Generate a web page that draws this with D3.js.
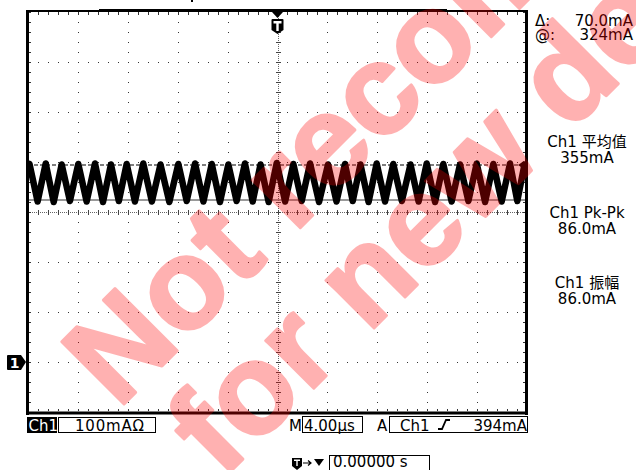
<!DOCTYPE html>
<html>
<head>
<meta charset="utf-8">
<script src="https://cdn.jsdelivr.net/npm/d3@7"></script>
<style>
  html, body { margin: 0; padding: 0; background: #fff; }
  svg { display: block; }
</style>
</head>
<body>
<svg id="scope" width="636" height="470"></svg>
<script>
// ---- Captured channel 1 waveform: vertex times (µs) and currents (mA) ----
const waveTimes = [
  -20.00, -19.88, -19.23, -18.58, -17.94, -17.30, -16.64, -15.97, -15.30, -14.63,
  -13.99, -13.35, -12.72, -12.09, -11.43, -10.76, -10.07, -9.38, -8.67, -7.95,
  -7.28, -6.61, -5.94, -5.27, -4.61, -3.94, -3.28, -2.61, -1.99, -1.36,
  -0.71, -0.06, 0.61, 1.27, 1.94, 2.61, 3.33, 4.05, 4.73, 5.41,
  6.03, 6.65, 7.30, 7.95, 8.62, 9.28, 9.97, 10.66, 11.31, 11.96,
  12.63, 13.29, 13.96, 14.63, 15.30, 15.97, 16.64, 17.30, 17.97, 18.64,
  19.22, 19.80, 20.00
];
const waveCurrents = [
  390, 396, 321, 397, 320, 395, 322, 396, 321, 397,
  320, 395, 322, 396, 321, 397, 321, 395, 320, 396,
  322, 397, 321, 396, 320, 395, 322, 397, 321, 395,
  320, 398, 321, 396, 322, 397, 320, 395, 321, 396,
  322, 395, 320, 397, 321, 396, 322, 395, 321, 397,
  320, 396, 321, 395, 322, 397, 320, 396, 321, 397,
  322, 395, 384
];

// ---- Cursors, trigger and measurement readouts ----
const cursorLower = 324;      // mA, "@" reading
const cursorDelta = 70;       // mA, "Δ" reading
const cursorUpper = cursorLower + cursorDelta;
const triggerLevel = 394;     // mA
const cursorLabels = ["Δ:", "@:"];
const cursorValues = ["70.0mA", "324mA"];
const measureNames = ["Ch1 平均值", "Ch1 Pk-Pk", "Ch1 振幅"];
const measureValues = ["355mA", "86.0mA", "86.0mA"];

// ---- Status bar texts ----
const chLabel = "Ch1";
const voltsDiv = "100mAΩ";
const timeDiv = "4.00µs";
const trigSource = "Ch1";
const trigValue = "394mA";
const horizPos = "0.00000 s";

// ---- Graticule divisions ----
const timeTicks = d3.range(-20, 20.001, 4);     // µs, 10 divisions
const currentTicks = d3.range(-100, 700.1, 100); // mA, 8 divisions

const svg = d3.select("#scope");
const FONT = "'DejaVu Sans', Verdana, sans-serif";
const CJK = "'DejaVu Sans', 'Noto Sans CJK SC', sans-serif";

const x = d3.scaleLinear().domain([-20, 20]).range([28, 527]);
const y = d3.scaleLinear().domain([-100, 700]).range([412, 12]);

const grid = svg.append("g").attr("class", "graticule");
const dot = (gx, gy, w = 1, h = 1, c = "#333") =>
  grid.append("rect").attr("x", gx).attr("y", gy).attr("width", w).attr("height", h).attr("fill", c);

// dotted horizontal division lines
const minorT = d3.range(-20, 20.001, 0.8);
const minorI = d3.range(-100, 700.1, 20);
currentTicks.forEach(v => {
  if (v === 300) return;
  minorT.forEach(t => dot(Math.round(x(t)), Math.round(y(v))));
});
// dotted vertical division lines
timeTicks.forEach(t => {
  if (t === 0) return;
  minorI.forEach(v => dot(Math.round(x(t)), Math.round(y(v))));
});

// center cross with dense dots and minor tick marks
const cx = Math.round(x(0)), cy = Math.round(y(300));
for (let px = x(-20); px <= x(20); px += 2) dot(Math.round(px), cy, 1, 1, "#666");
for (let py = y(700); py <= y(-100); py += 2) dot(cx, Math.round(py), 1, 1, "#666");
minorT.forEach(t => dot(Math.round(x(t)), cy - 2, 1, 5, "#444"));
minorI.forEach(v => dot(cx - 2, Math.round(y(v)), 5, 1, "#444"));

// border ticks
minorT.forEach(t => {
  dot(Math.round(x(t)), 13, 1, 2);
  dot(Math.round(x(t)), 409, 1, 2);
});
minorI.forEach(v => {
  dot(29, Math.round(y(v)), 2, 1);
  dot(523, Math.round(y(v)), 2, 1);
});

// cursor lines
svg.append("line")
  .attr("x1", x(-20)).attr("x2", x(20))
  .attr("y1", y(cursorUpper)).attr("y2", y(cursorUpper))
  .attr("stroke", "#555").attr("stroke-width", 1.5).attr("stroke-dasharray", "4,2");
svg.append("line")
  .attr("x1", x(-20)).attr("x2", x(20))
  .attr("y1", y(cursorLower)).attr("y2", y(cursorLower))
  .attr("stroke", "#777").attr("stroke-width", 1.6);

// waveform
svg.append("clipPath").attr("id", "plotClip")
  .append("rect").attr("x", 28).attr("y", 12).attr("width", 499).attr("height", 400);
const wave = waveTimes.map((t, i) => [t, waveCurrents[i]]);
svg.append("path")
  .datum(wave)
  .attr("clip-path", "url(#plotClip)")
  .attr("fill", "none")
  .attr("stroke", "#000")
  .attr("stroke-width", 6.5)
  .attr("stroke-linejoin", "round")
  .attr("d", d3.line().x(d => x(d[0])).y(d => y(d[1])));

// frame
svg.append("line").attr("x1", 27.5).attr("x2", 27.5).attr("y1", 10).attr("y2", 415)
  .attr("stroke", "#000").attr("stroke-width", 3);
svg.append("line").attr("x1", 526.5).attr("x2", 526.5).attr("y1", 10).attr("y2", 415)
  .attr("stroke", "#000").attr("stroke-width", 3);
svg.append("line").attr("x1", 26).attr("x2", 528).attr("y1", 413).attr("y2", 413)
  .attr("stroke", "#000").attr("stroke-width", 3);
svg.append("line").attr("x1", 26).attr("x2", 528).attr("y1", 11).attr("y2", 11)
  .attr("stroke", "#000").attr("stroke-width", 2);
svg.append("rect").attr("x", 99).attr("y", 9).attr("width", 348).attr("height", 3).attr("fill", "#000");
svg.append("rect").attr("x", 191).attr("y", 0).attr("width", 2).attr("height", 2).attr("fill", "#000");

// trigger position marker
const tx = x(0);
svg.append("path").attr("d", `M${tx - 5.5},12 L${tx + 5.5},12 L${tx},18 Z`).attr("fill", "#000");
svg.append("path")
  .attr("d", `M${tx - 6},20 Q${tx - 6},19 ${tx - 5},19 L${tx + 5},19 Q${tx + 6},19 ${tx + 6},20 L${tx + 6},30 L${tx},34 L${tx - 6},30 Z`)
  .attr("fill", "#000");
svg.append("rect").attr("x", tx - 4).attr("y", 21).attr("width", 8).attr("height", 2.5).attr("fill", "#fff");
svg.append("rect").attr("x", tx - 1.2).attr("y", 22).attr("width", 2.4).attr("height", 9).attr("fill", "#fff");

// trigger level marker
const ty = y(triggerLevel);
svg.append("path").attr("d", `M518,${ty} L524,${ty - 4} L524,${ty + 4} Z`).attr("fill", "#000");

// channel 1 ground marker
const gy = y(0);
svg.append("path")
  .attr("d", `M8,${gy - 7} Q7,${gy - 7} 7,${gy - 6} L7,${gy + 7} Q7,${gy + 8} 8,${gy + 8} L21,${gy + 8} L26,${gy} L21,${gy - 7} Z`)
  .attr("fill", "#000");
svg.append("text").attr("x", 14.5).attr("y", gy + 6).attr("text-anchor", "middle")
  .attr("font-family", FONT).attr("font-weight", "bold").attr("font-size", 14)
  .attr("fill", "#fff").text("1");

// cursor readouts
const txt = (tx0, ty0, s, anchor = "start", size = 15, fam = FONT, fill = "#000") =>
  svg.append("text").attr("x", tx0).attr("y", ty0).attr("text-anchor", anchor)
    .attr("font-family", fam).attr("font-size", size).attr("fill", fill).text(s);
cursorLabels.forEach((l, i) => {
  txt(535, 26 + i * 14, l);
  txt(633, 26 + i * 14, cursorValues[i], "end");
});

// measurement readouts
const measY = [147, 218, 288];
measureNames.forEach((n, i) => {
  txt(587, measY[i], n, "middle", 15, CJK);
  txt(587, measY[i] + 16, measureValues[i], "middle");
});

// status bar
svg.append("rect").attr("x", 27).attr("y", 417).attr("width", 30).attr("height", 16).attr("fill", "#000");
txt(28.5, 431, chLabel, "start", 15, FONT, "#fff");
svg.append("rect").attr("x", 58.5).attr("y", 417.5).attr("width", 97).attr("height", 15)
  .attr("fill", "none").attr("stroke", "#000");
txt(75, 431, voltsDiv).attr("letter-spacing", 0.8);
txt(289, 431, "M");
svg.append("rect").attr("x", 302.5).attr("y", 416.5).attr("width", 60).attr("height", 16)
  .attr("fill", "none").attr("stroke", "#000");
txt(304, 431, timeDiv);
txt(377, 431, "A");
svg.append("rect").attr("x", 389.5).attr("y", 416.5).attr("width", 138).attr("height", 16)
  .attr("fill", "none").attr("stroke", "#000");
txt(400, 431, trigSource);
svg.append("path").attr("d", "M438,429 L442,429 L446,420 L450,420")
  .attr("fill", "none").attr("stroke", "#000").attr("stroke-width", 1.8);
txt(527, 431, trigValue, "end");

// horizontal position readout
svg.append("path")
  .attr("d", "M292,458 L302,458 L302,466 L297,470 L292,466 Z").attr("fill", "#000");
svg.append("rect").attr("x", 294).attr("y", 459.5).attr("width", 6).attr("height", 1.5).attr("fill", "#fff");
svg.append("rect").attr("x", 296.3).attr("y", 460).attr("width", 1.4).attr("height", 6).attr("fill", "#fff");
svg.append("path").attr("d", "M303,463 L311,463 M308,460.5 L311,463 L308,465.5")
  .attr("fill", "none").attr("stroke", "#000").attr("stroke-width", 1.2);
svg.append("path").attr("d", "M314,459 L324,459 L319,466 Z").attr("fill", "#000");
svg.append("rect").attr("x", 329.5).attr("y", 455.5).attr("width", 100).attr("height", 18)
  .attr("fill", "none").attr("stroke", "#000");
txt(333, 467, horizPos);

// watermark overlay
const wm = svg.append("g").attr("opacity", 0.3)
  .attr("font-family", "'Liberation Sans', Arial, sans-serif")
  .attr("font-weight", "bold").attr("font-size", 128)
  .attr("fill", "#ff0000").attr("stroke", "#ff0000").attr("stroke-width", 3)
  .attr("stroke-linejoin", "round");
wm.append("text").attr("transform", "translate(118,410) rotate(-45)").text("Not recommended");
wm.append("text").attr("transform", "translate(222,480) rotate(-45)").text("for new design");
</script>
</body>
</html>
